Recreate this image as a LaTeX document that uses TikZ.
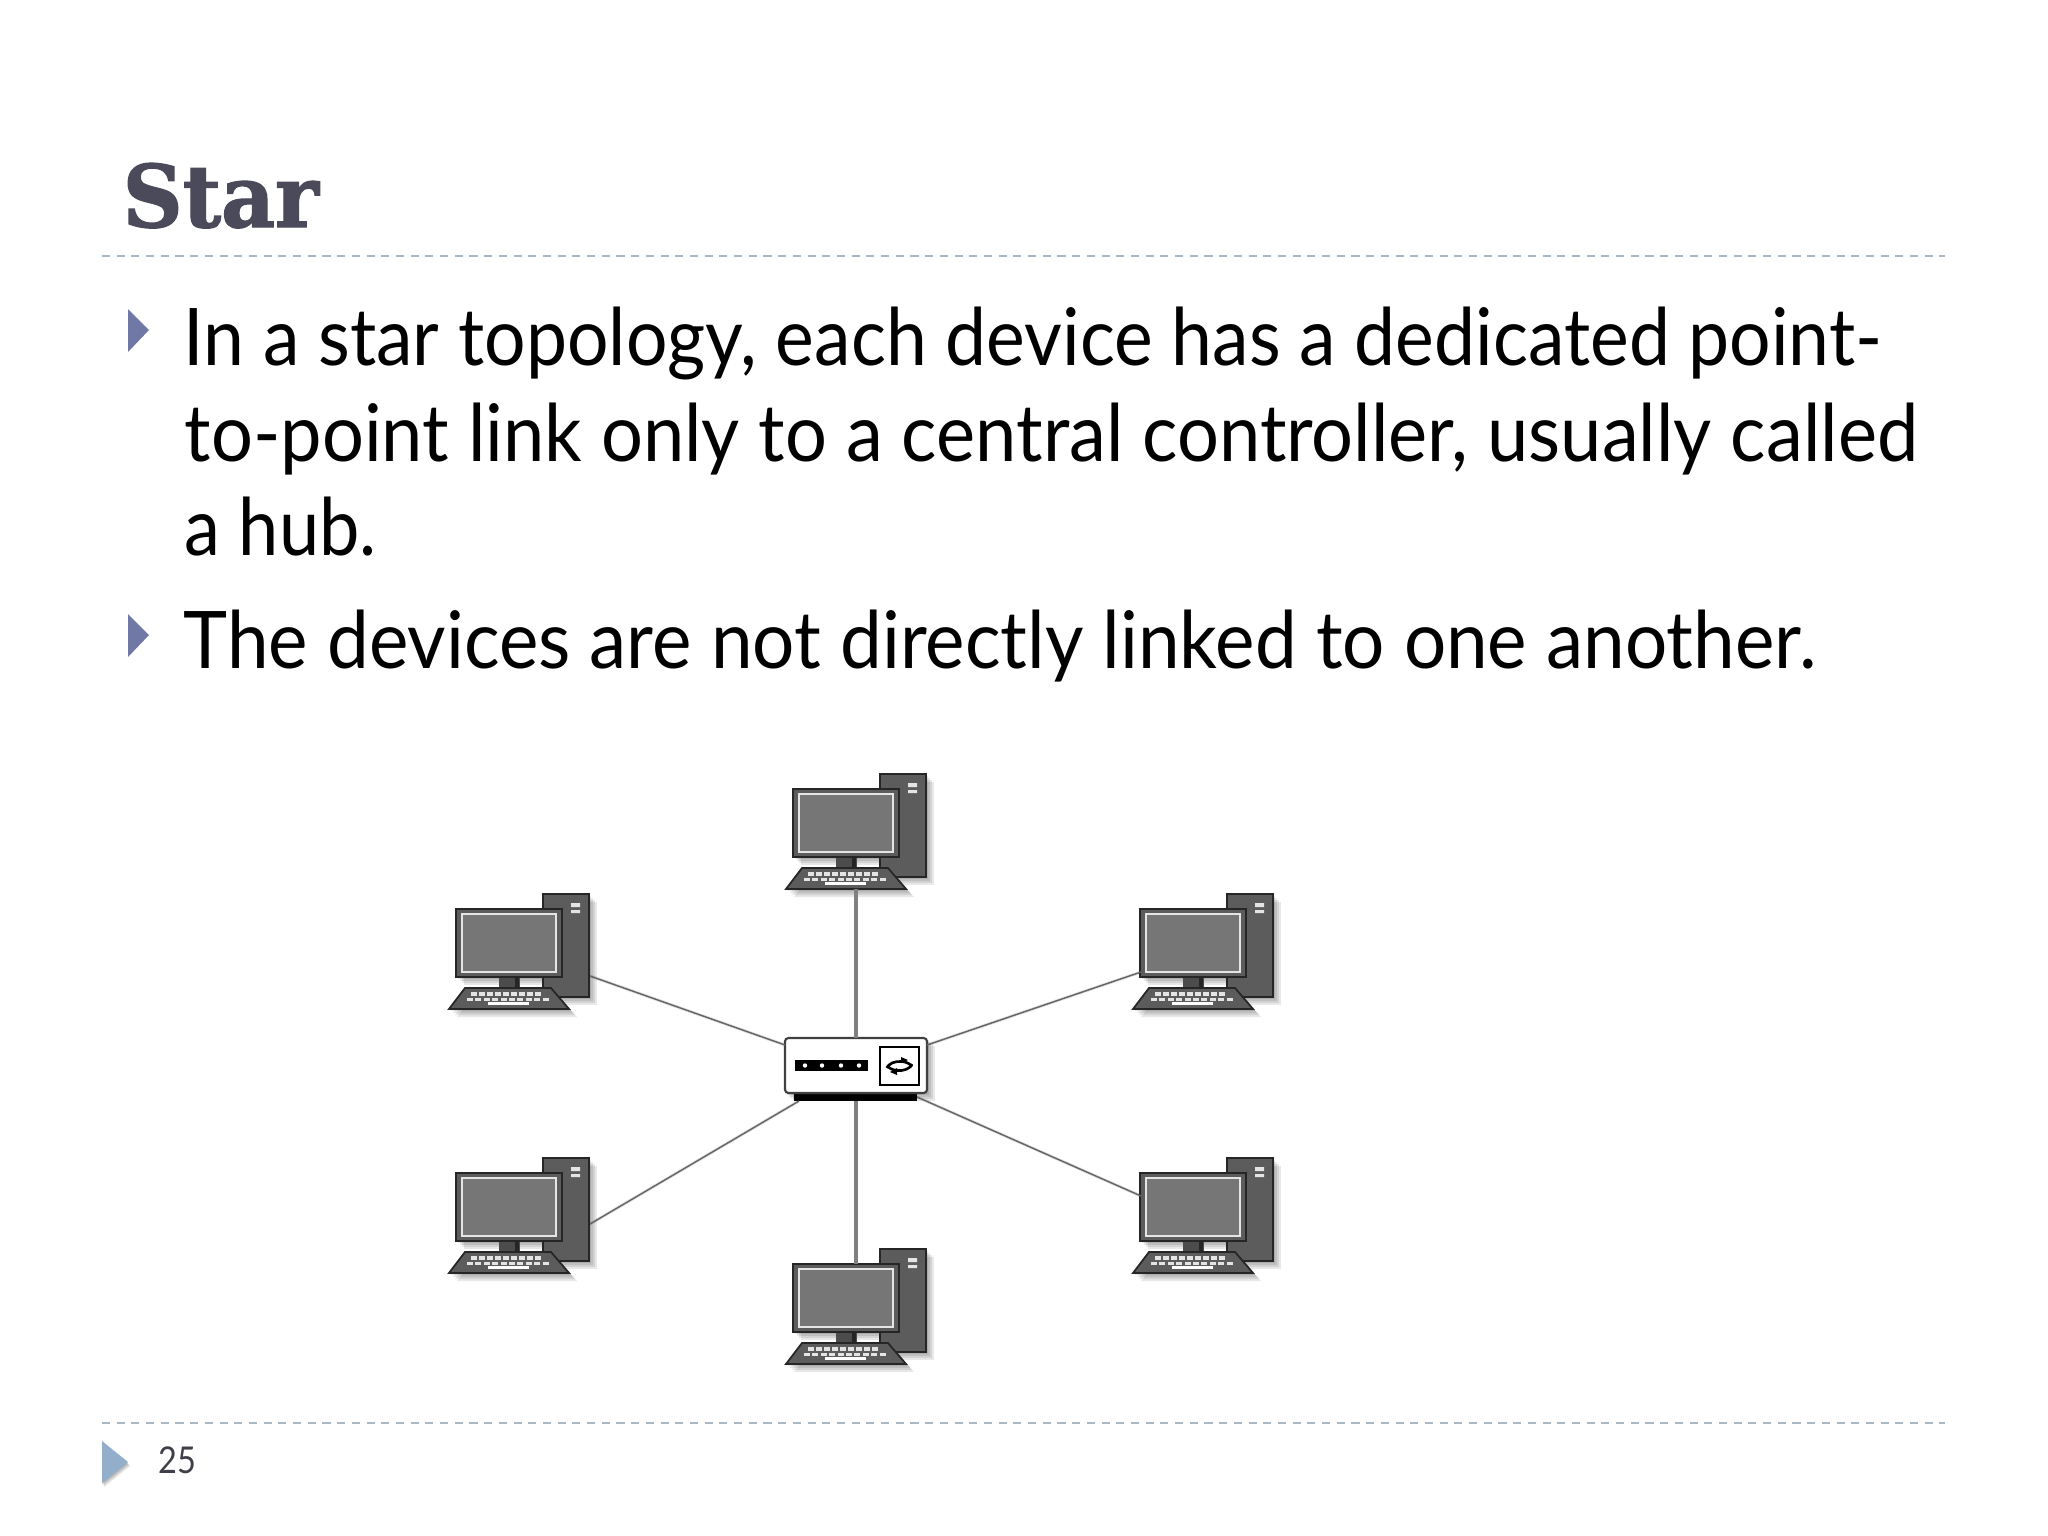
\documentclass[tikz,border=0pt]{standalone}
\usepackage{fontspec}
\setmainfont{Lato}
\newfontfamily\titlefont{DejaVu Serif}[BoldFeatures={FakeBold=1.6}]
\definecolor{titlecol}{HTML}{4A4A5A}
\definecolor{rulecol}{HTML}{A9B8C4}
\definecolor{bulletcol}{HTML}{7078A5}
\definecolor{footcol}{HTML}{92AECB}
\definecolor{numcol}{HTML}{3F3F4A}
\definecolor{pcdark}{HTML}{5C5C5C}
\definecolor{pcscreen}{HTML}{767676}
\definecolor{keycol}{HTML}{E4E4E4}
\tikzset{
  x=0.01cm,y=-0.01cm,
  bodyline/.style={anchor=base west,inner sep=0pt,font=\fontsize{22.6pt}{27pt}\selectfont,text=black},
  dashrule/.style={rulecol,line width=0.57pt,dash pattern=on 2.3pt off 1.88pt},
  bullet/.style={fill=bulletcol,draw=none},
  softshadow/.style={fill=black,opacity=0.09,draw=none},
  linkv/.style={draw=black!50,line width=1pt},
  linkd/.style={draw=black!60,line width=0.42pt},
  linkshadow/.style={draw=black,opacity=0.1,line width=0.9pt},
  pcpart/.style={draw=black!85,line width=0.5pt},
  pics/computer/.style={code={
    \foreach \s in {2,4,6,8}{
      \fill[softshadow,shift={(\s,\s)}] (880,774) rectangle (926,877);
      \fill[softshadow,shift={(\s,\s)}] (793,789) rectangle (899,857);
      \fill[softshadow,shift={(\s,\s)}] (802,868) -- (888,868) -- (906,889) -- (786,889) -- cycle;
    }
    \fill[pcpart,fill=pcdark] (880,774) rectangle (926,877);
    \fill[keycol] (908,783) rectangle (917,787) (908,790) rectangle (917,793);
    \fill[black!70] (836,857) rectangle (857,868);
    \fill[black!85] (852,857) rectangle (856,868);
    \fill[pcpart,fill=pcdark] (793,789) rectangle (899,857);
    \fill[pcscreen,draw=black!10,line width=0.5pt] (799,794) rectangle (893,852);
    \fill[pcpart,fill=pcdark] (802,868) -- (888,868) -- (906,889) -- (786,889) -- cycle;
    \foreach \k in {0,...,8}{\fill[keycol] ({808+\k*8},872) rectangle ({814+\k*8},876);}
    \foreach \k in {0,...,9}{\fill[keycol] ({804+\k*8.4},877.5) rectangle ({810+\k*8.4},881);}
    \fill[white] (825,882) rectangle (866,885);
    \coordinate (-t) at (856,789);
    \coordinate (-b) at (856,889);
    \coordinate (-r1) at (927,856);
    \coordinate (-r2) at (927,840);
    \coordinate (-l1) at (794,852);
    \coordinate (-l2) at (794,812);
  }}
}
\begin{document}
\begin{tikzpicture}
\useasboundingbox[fill=white] (0,0) rectangle (2048,1536);

% title
\node[anchor=base west,inner sep=0pt,text=titlecol,font=\titlefont\bfseries\fontsize{24.5pt}{29pt}\selectfont] (title) at (122,227) {\scalebox{0.965}[1]{Star}};
\coordinate (ruleTopL) at (102,256);
\coordinate (ruleTopR) at (1945,256);
\draw[dashrule] (ruleTopL) -- (ruleTopR);

% bullets
\fill[bullet] (128,309) -- (149,330) -- (128,352) -- cycle;
\fill[bullet] (128,614) -- (149,635) -- (128,657) -- cycle;

\node[bodyline] (line1) at (183,365) {\scalebox{0.922}[1]{In a star topology, each device has a dedicated point-}};
\node[bodyline] (line2) at (184,461) {\scalebox{0.931}[1]{to-point link only to a central controller, usually called}};
\node[bodyline] (line3) at (184,555) {\scalebox{0.907}[1]{a hub.}};
\node[bodyline] (line4) at (183,668) {\scalebox{0.939}[1]{The devices are not directly linked to one another.}};

% computers
\pic (pcT) at (0,0) {computer};
\pic (pcUL) at (-337,120) {computer};
\pic (pcUR) at (347,120) {computer};
\pic (pcLL) at (-337,384) {computer};
\pic (pcLR) at (347,384) {computer};
\pic (pcB) at (0,475) {computer};

% hub
\foreach \s in {2,4,6,8}{
  \fill[softshadow,shift={(\s,\s)}] (785,1038) rectangle (927,1093);
}
\fill[black] (794,1093) rectangle (917,1101);
\node[draw=black!75,fill=white,line width=0.6pt,rounded corners=1pt,minimum width=1.42cm,minimum height=0.55cm,inner sep=0pt] (hub) at (856,1065.5) {};
\node[fill=black,minimum width=0.73cm,minimum height=0.11cm,inner sep=0pt] (hubleds) at (831.5,1065.5) {};
\foreach \x in {805,822,841,859}{\fill[white] (\x,1065.5) circle (2.2);}
\node[draw=black,line width=0.5pt,minimum width=0.39cm,minimum height=0.38cm,inner sep=0pt] (hubbox) at (899.5,1066) {};
\draw[black,line width=0.75pt] (887,1068) arc[start angle=190,end angle=340,x radius=13,y radius=8];
\draw[black,line width=0.75pt] (912,1064) arc[start angle=10,end angle=160,x radius=13,y radius=8];
\fill[black] (890,1072) -- (897,1068) -- (897,1075) -- cycle;
\fill[black] (908,1060) -- (901,1057) -- (901,1063) -- cycle;

\coordinate (hubN) at (856,1038);
\coordinate (hubS) at (856,1101);
\coordinate (hubUL) at (785,1045);
\coordinate (hubUR) at (927,1045);
\coordinate (hubLL) at (799,1101);
\coordinate (hubLR) at (917,1097);

% connectors
\draw[linkv] (pcT-b) -- (hubN);
\draw[linkv] (hubS) -- (pcB-t);
\foreach \a/\b in {pcUL-r1/hubUL,pcUR-l1/hubUR,pcLL-r2/hubLL,pcLR-l2/hubLR}{
  \draw[linkshadow,shift={(1,2)}] (\a) -- (\b);
  \draw[linkd] (\a) -- (\b);
}

% footer
\coordinate (ruleBotL) at (102,1423);
\coordinate (ruleBotR) at (1945,1423);
\draw[dashrule] (ruleBotL) -- (ruleBotR);
\foreach \s in {1,2,3,4}{
  \fill[softshadow,shift={(-1+\s*0.8,\s)}] (102,1441) -- (128,1462) -- (102,1483) -- cycle;
}
\fill[footcol] (102,1441) -- (128,1462) -- (102,1483) -- cycle;
\node[anchor=base west,inner sep=0pt,text=numcol,font=\fontsize{10.5pt}{12pt}\selectfont] (pageno) at (158,1473) {\scalebox{0.88}[1]{25}};
\end{tikzpicture}
\end{document}
